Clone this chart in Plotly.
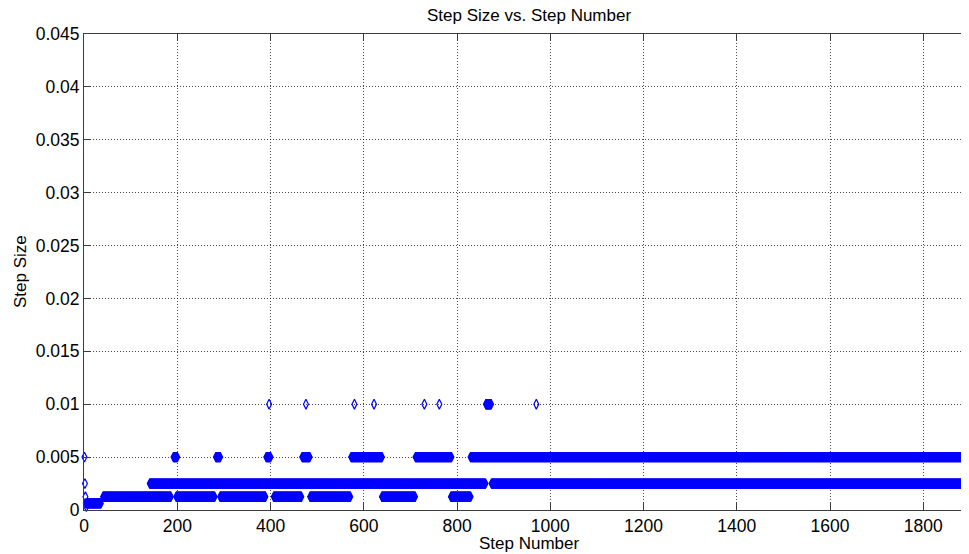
import plotly.graph_objects as go

# ---- data: step-size levels and inclusive step-number runs at each level ----
level_0100 = 0.01
runs_0100 = [(397, 397), (476, 476), (580, 580), (622, 622), (730, 730), (762, 762), (862, 873), (970, 970)]
level_0050 = 0.005
runs_0050 = [(1, 1), (192, 200), (283, 292), (391, 400), (468, 484), (573, 639), (711, 788), (829, 1920)]
level_0025 = 0.0025
runs_0025 = [(2, 2), (141, 861), (874, 1920)]
level_00125 = 0.00125
runs_00125 = [(3, 3), (41, 186), (198, 280), (292, 389), (407, 466), (485, 571), (639, 710), (787, 829)]
level_000625 = 0.000625
runs_000625 = [(4, 4), (6, 36)]
level_0003125 = 0.0003125
runs_0003125 = [(5, 5)]

x_ticks = [0, 200, 400, 600, 800, 1000, 1200, 1400, 1600, 1800]
y_ticks = [0, 0.005, 0.01, 0.015, 0.02, 0.025, 0.03, 0.035, 0.04, 0.045]
y_tick_labels = ["0", "0.005", "0.01", "0.015", "0.02", "0.025", "0.03", "0.035", "0.04", "0.045"]

# ---- expand runs into one point per step ----
steps, sizes = [], []
for lvl, runs in [(level_0100, runs_0100), (level_0050, runs_0050), (level_0025, runs_0025),
                  (level_00125, runs_00125), (level_000625, runs_000625), (level_0003125, runs_0003125)]:
    for a, b in runs:
        for s in range(a, b + 1):
            steps.append(s)
            sizes.append(lvl)

FONT = "Liberation Sans, Arial, sans-serif"
AX = "rgb(60,60,60)"
OFF = 8                      # default page body margin offsets the figure
W, H = 969 - OFF, 554 - OFF
# target page pixel positions
PL, PT, PB = 84, 34, 510
L, T = PL - OFF, PT - OFF
B = H - (PB - OFF)
R = 0
PW, PH = W - L - R, H - T - B


def px_x(page_x):
    return (page_x - PL) / PW


def px_y(page_y):
    return (PB - page_y) / PH


fig = go.Figure()
fig.add_trace(go.Scatter(
    x=steps, y=sizes, mode="markers",
    marker=dict(symbol="diamond-tall-open", size=7, color="rgb(0,0,255)",
                line=dict(width=1.2, color="rgb(0,0,255)")),
    cliponaxis=False, showlegend=False, hoverinfo="skip",
))

fig.update_layout(
    width=W, height=H,
    margin=dict(l=L, r=R, t=T, b=B, pad=0),
    paper_bgcolor="white", plot_bgcolor="white",
    font=dict(family=FONT, size=17, color="black"),
    xaxis=dict(range=[0, 1898], tickvals=x_ticks, ticktext=[str(v) for v in x_ticks],
               ticks="inside", ticklen=7, tickwidth=1, tickcolor=AX,
               showline=True, linecolor=AX, linewidth=1, mirror="ticks",
               showgrid=True, gridcolor="rgba(0,0,0,0.7)", gridwidth=1, griddash="1px,2px",
               zeroline=False, tickfont=dict(family=FONT, size=17.5, color="black")),
    yaxis=dict(range=[0, 0.045], tickvals=y_ticks, ticktext=y_tick_labels,
               ticks="inside", ticklen=7, tickwidth=1, tickcolor=AX,
               showline=True, linecolor=AX, linewidth=1, mirror=False,
               showgrid=True, gridcolor="rgba(0,0,0,0.7)", gridwidth=1, griddash="1px,2px",
               zeroline=False, tickfont=dict(family=FONT, size=17.5, color="black")),
    annotations=[
        dict(text="Step Size vs. Step Number", xref="paper", yref="paper",
             x=px_x(529), y=px_y(15.5),
             xanchor="center", yanchor="middle", showarrow=False,
             font=dict(family=FONT, size=17, color="black")),
        dict(text="Step Number", xref="paper", yref="paper",
             x=px_x(529), y=px_y(543),
             xanchor="center", yanchor="middle", showarrow=False,
             font=dict(family=FONT, size=17, color="black")),
        dict(text="Step Size", xref="paper", yref="paper",
             x=px_x(20), y=px_y(272),
             xanchor="center", yanchor="middle", showarrow=False, textangle=-90,
             font=dict(family=FONT, size=17, color="black")),
    ],
)

fig.write_html("out.html")
